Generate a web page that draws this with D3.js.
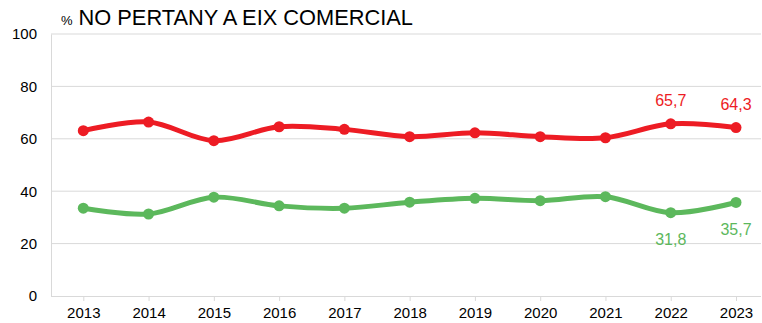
<!DOCTYPE html>
<html>
<head>
<meta charset="utf-8">
<script src="https://cdn.jsdelivr.net/npm/d3@7/dist/d3.min.js"></script>
<style>
  html, body { margin: 0; padding: 0; background: #fff; }
  svg { display: block; font-family: "Liberation Sans", Arial, sans-serif; }
</style>
</head>
<body>
<svg id="chart" width="762" height="323"></svg>
<script>
// Years on the horizontal axis
const years = ["2013", "2014", "2015", "2016", "2017", "2018", "2019", "2020", "2021", "2022", "2023"];
// Share (%) of each group per year
const redValues   = [63.1, 66.4, 59.3, 64.6, 63.6, 60.8, 62.3, 60.8, 60.4, 65.7, 64.3];
const greenValues = [33.5, 31.3, 37.7, 34.4, 33.5, 35.8, 37.3, 36.4, 37.9, 31.8, 35.7];
// Vertical axis ticks
const yTicks = [0, 20, 40, 60, 80, 100];
// Years whose values are written on the chart
const labelledYears = ["2022", "2023"];

const svg = d3.select("#chart");
const plot = { left: 51, right: 761, top: 34, bottom: 296 };

const x = d3.scalePoint().domain(years).range([83.3, 736]);
const y = d3.scaleLinear().domain([0, 100]).range([plot.bottom, plot.top]);

// Title
const title = svg.append("text").attr("x", 61).attr("y", 25).attr("fill", "#000");
title.append("tspan").attr("font-size", 13).text("%");
title.append("tspan").attr("font-size", 21.8).attr("dx", 6).text("NO PERTANY A EIX COMERCIAL");

// Horizontal gridlines
svg.append("g")
  .selectAll("line")
  .data(yTicks.filter(d => d > 0))
  .join("line")
  .attr("x1", plot.left).attr("x2", plot.right)
  .attr("y1", d => y(d)).attr("y2", d => y(d))
  .attr("stroke", "#d9d9d9").attr("stroke-width", 1);

// Left axis
const yAxis = svg.append("g")
  .attr("transform", `translate(${plot.left},0)`)
  .call(d3.axisLeft(y).tickValues(yTicks).tickSize(0).tickPadding(14));
yAxis.select(".domain").attr("stroke", "#d9d9d9");
yAxis.selectAll("text").attr("font-size", 15).attr("fill", "#000")
  .attr("font-family", "Liberation Sans, Arial, sans-serif");

// Bottom axis
const xAxis = svg.append("g")
  .attr("transform", `translate(0,${plot.bottom})`)
  .call(d3.axisBottom(x).tickSize(5).tickPadding(6).tickSizeOuter(0));
xAxis.select(".domain").attr("d", `M${plot.left},0.5H${plot.right}`).attr("stroke", "#d9d9d9");
xAxis.selectAll(".tick line").attr("stroke", "#d9d9d9");
xAxis.selectAll("text").attr("font-size", 15).attr("fill", "#000")
  .attr("font-family", "Liberation Sans, Arial, sans-serif");

const series = [
  { values: redValues, color: "#ed1c24", labelDy: -22 },
  { values: greenValues, color: "#5cb85c", labelDy: 28 }
];

const line = d3.line()
  .x((d, i) => x(years[i]))
  .y(d => y(d))
  .curve(d3.curveCatmullRom.alpha(0.5));

series.forEach(s => {
  svg.append("path")
    .datum(s.values)
    .attr("d", line)
    .attr("fill", "none")
    .attr("stroke", s.color)
    .attr("stroke-width", 5)
    .attr("stroke-linejoin", "round")
    .attr("stroke-linecap", "round");

  svg.append("g")
    .selectAll("circle")
    .data(s.values)
    .join("circle")
    .attr("cx", (d, i) => x(years[i]))
    .attr("cy", d => y(d))
    .attr("r", 5.5)
    .attr("fill", s.color);

  svg.append("g")
    .selectAll("text")
    .data(s.values.map((v, i) => ({ v, year: years[i] })).filter(d => labelledYears.includes(d.year)))
    .join("text")
    .attr("x", d => x(d.year))
    .attr("y", d => y(d.v) + s.labelDy)
    .attr("text-anchor", "middle")
    .attr("dominant-baseline", "middle")
    .attr("font-size", 16)
    .attr("fill", s.color)
    .text(d => d3.format(".1f")(d.v).replace(".", ","));
});
</script>
</body>
</html>
